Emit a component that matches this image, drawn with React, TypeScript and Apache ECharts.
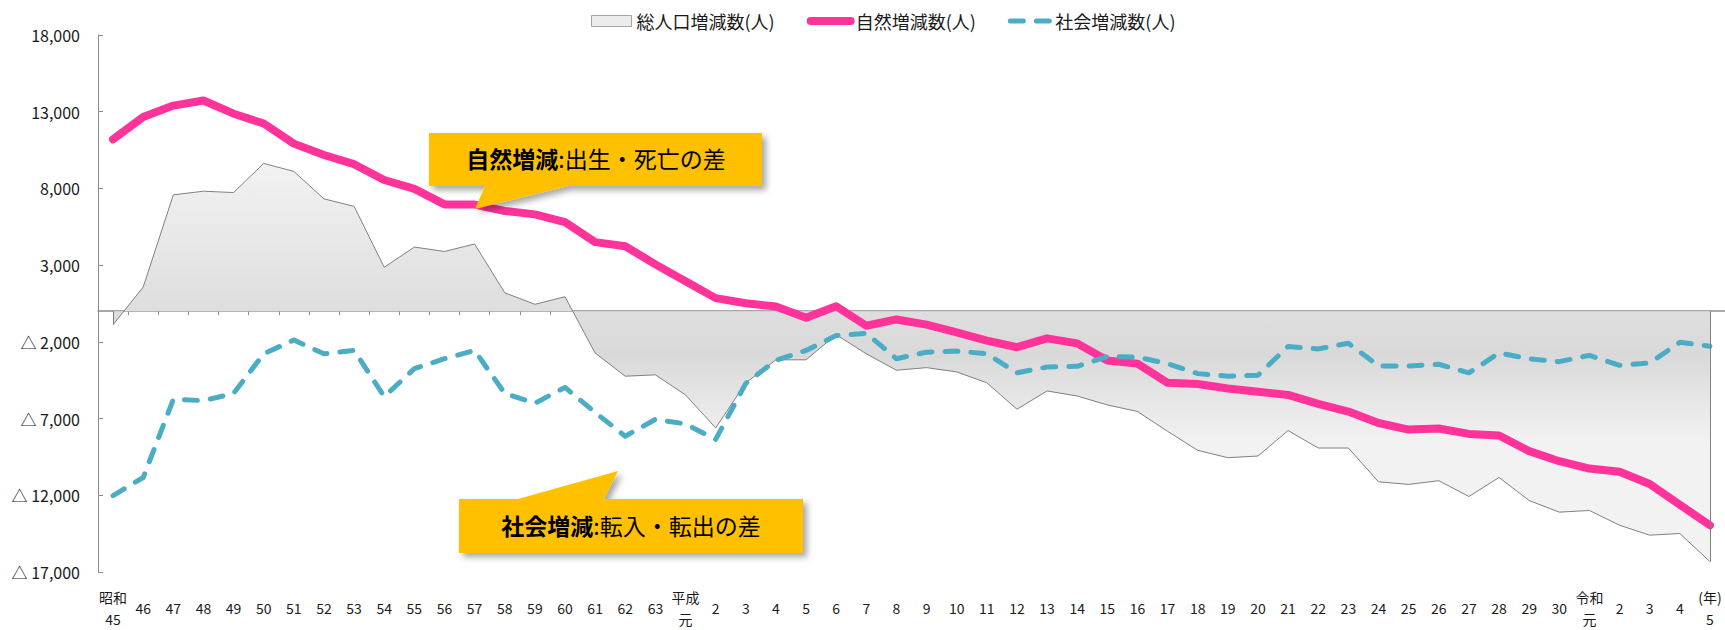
import React, { useEffect, useRef } from 'react';
import * as echarts from 'echarts';

// 年（昭和45年〜令和5年）
const categories: string[] = [
  '昭和\n45', '46', '47', '48', '49', '50', '51', '52', '53', '54', '55', '56', '57', '58', '59', '60', '61', '62', '63',
  '平成\n元', '2', '3', '4', '5', '6', '7', '8', '9', '10', '11', '12', '13', '14', '15', '16', '17', '18', '19', '20',
  '21', '22', '23', '24', '25', '26', '27', '28', '29', '30',
  '令和\n元', '2', '3', '4', '(年)\n5',
];

// 総人口増減数(人)
const totalChange: number[] = [
  -880, 1570, 7580, 7820, 7730, 9630, 9110, 7320, 6830, 2860, 4180, 3890, 4380, 1200, 450, 940, -2730, -4240, -4150,
  -5460, -7610, -4670, -3170, -3170, -1530, -2780, -3850, -3680, -3960, -4670, -6390, -5200, -5530, -6110, -6540, -7830,
  -9070, -9550, -9440, -7780, -8920, -8920, -11120, -11290, -11050, -12080, -10840, -12340, -13100,
  -12990, -13950, -14600, -14490, -16320,
];

// 自然増減数(人)
const naturalChange: number[] = [
  11200, 12650, 13400, 13730, 12870, 12230, 10920, 10180, 9580, 8550, 7970, 6960, 6950, 6530, 6310, 5800, 4500, 4230, 3050,
  1950, 850, 520, 300, -430, 320, -950, -540, -880, -1380, -1920, -2350, -1770, -2100, -3210, -3420, -4670,
  -4750, -5040, -5250, -5460, -6040, -6540, -7290, -7720, -7650, -8000, -8100, -9120, -9780,
  -10260, -10470, -11260, -12620, -13950,
];

// 社会増減数(人)
const socialChange: number[] = [
  -12020, -10840, -5750, -5830, -5360, -2780, -1880, -2780, -2560, -5570, -3750, -3100, -2560, -5360, -6000, -4970, -6600, -8150, -7050,
  -7350, -8360, -4710, -3200, -2560, -1590, -1440, -3100, -2670, -2600, -2780, -4020, -3640, -3590, -2950, -2990, -3420,
  -4070, -4240, -4170, -2300, -2460, -2090, -3570, -3570, -3460, -4020, -2730, -3100, -3290,
  -2880, -3530, -3380, -2030, -2280,
];

const seriesNames = ['総人口増減数(人)', '自然増減数(人)', '社会増減数(人)'];
const yMin = -17000;
const yMax = 18000;
const yInterval = 5000;

const FONT = "'Noto Sans CJK JP', 'Noto Sans', sans-serif";
const PINK = '#ff3399';
const BLUE = '#4bacc6';
const DASH = [13, 13];

function formatTick(v: number): string {
  const s = Math.abs(v).toLocaleString('en-US');
  return v < 0 ? '△ ' + s : s;
}

export default function App() {
  const ref = useRef<HTMLDivElement>(null);

  useEffect(() => {
    if (!ref.current) return;
    const chart = echarts.init(ref.current, undefined, { renderer: 'svg' });
    const last = totalChange.length - 1;

    const option: any = {
      animation: false,
      backgroundColor: '#ffffff',
      textStyle: { fontFamily: FONT },
      legend: {
        left: 586,
        top: 7,
        itemWidth: 40,
        itemHeight: 11,
        itemGap: 32,
        selectedMode: false,
        textStyle: { fontFamily: FONT, fontSize: 18, color: '#1a1a1a' },
        data: [
          {
            name: seriesNames[0],
            icon: 'rect',
            itemStyle: { color: '#ececec', borderColor: '#a6a6a6', borderWidth: 1 },
          },
          {
            name: seriesNames[1],
            itemStyle: { opacity: 0 },
            lineStyle: { color: PINK, width: 8, cap: 'round' },
          },
          {
            name: seriesNames[2],
            itemStyle: { opacity: 0 },
            lineStyle: { color: BLUE, width: 5, type: DASH, cap: 'round' },
          },
        ],
      },
      grid: { left: 98, right: -4, top: 35, bottom: 53, containLabel: false },
      xAxis: [
        {
          type: 'category',
          data: categories,
          position: 'bottom',
          boundaryGap: true,
          axisLine: { show: false, onZero: false },
          axisTick: { show: false },
          axisLabel: {
            interval: 0,
            margin: 36,
            verticalAlign: 'middle',
            lineHeight: 22,
            fontSize: 14,
            fontFamily: FONT,
            color: '#1a1a1a',
          },
          splitLine: { show: false },
        },
        {
          type: 'category',
          data: categories,
          position: 'bottom',
          boundaryGap: true,
          axisLine: { show: true, onZero: true, lineStyle: { color: '#8c8c8c', width: 1.5 } },
          axisTick: { show: true, length: 4, inside: false, interval: 0, lineStyle: { color: '#8c8c8c' } },
          axisLabel: { show: false },
          splitLine: { show: false },
        },
      ],
      yAxis: {
        type: 'value',
        min: yMin,
        max: yMax,
        interval: yInterval,
        axisLine: { show: true, lineStyle: { color: '#8c8c8c', width: 1 } },
        axisTick: { show: true, inside: true, length: 5, lineStyle: { color: '#8c8c8c' } },
        splitLine: { show: false },
        axisLabel: {
          margin: 18,
          fontSize: 16,
          fontFamily: FONT,
          color: '#1a1a1a',
          formatter: (v: number) => formatTick(v),
        },
      },
      series: [
        {
          name: seriesNames[0],
          type: 'line',
          data: totalChange,
          symbol: 'none',
          z: 1,
          itemStyle: { color: '#e0e0e0' },
          lineStyle: { color: '#808080', width: 1 },
          areaStyle: {
            color: new echarts.graphic.LinearGradient(0, 0, 0, 1, [
              { offset: 0, color: '#f2f2f2' },
              { offset: 0.37, color: '#dedede' },
              { offset: 0.48, color: '#d9d9d9' },
              { offset: 0.7, color: '#f2f2f2' },
              { offset: 1, color: '#f2f2f2' },
            ]),
            opacity: 1,
          },
          markLine: {
            silent: true,
            symbol: 'none',
            label: { show: false },
            lineStyle: { color: '#808080', width: 1, type: 'solid' },
            data: [
              [{ coord: [0, 0] }, { coord: [0, totalChange[0]] }],
              [{ coord: [last, 0] }, { coord: [last, totalChange[last]] }],
            ],
          },
        },
        {
          name: seriesNames[1],
          type: 'line',
          data: naturalChange,
          symbol: 'none',
          z: 3,
          itemStyle: { color: PINK },
          lineStyle: { color: PINK, width: 8, cap: 'round', join: 'round' },
        },
        {
          name: seriesNames[2],
          type: 'line',
          data: socialChange,
          symbol: 'none',
          z: 4,
          itemStyle: { color: BLUE },
          lineStyle: { color: BLUE, width: 5, type: DASH, cap: 'round', join: 'round' },
        },
      ],
      graphic: [
        {
          type: 'polygon',
          z: 100,
          shape: {
            points: [[429, 133], [762, 133], [762, 186], [568, 186], [475, 209], [485, 186], [429, 186]],
          },
          style: {
            fill: '#ffc000',
            shadowBlur: 6,
            shadowOffsetX: 4,
            shadowOffsetY: 4,
            shadowColor: 'rgba(0,0,0,0.35)',
          },
        },
        {
          type: 'text',
          z: 101,
          x: 596,
          y: 158,
          style: {
            text: '{b|自然増減}{n|:出生・死亡の差}',
            align: 'center',
            verticalAlign: 'middle',
            rich: {
              b: { fontFamily: FONT, fontSize: 23, fontWeight: 'bold', fill: '#000000', color: '#000000' },
              n: { fontFamily: FONT, fontSize: 23, fontWeight: 'normal', fill: '#000000', color: '#000000' },
            },
          },
        },
        {
          type: 'polygon',
          z: 100,
          shape: {
            points: [[459, 499], [518, 499], [618, 471], [604, 499], [803, 499], [803, 553], [459, 553]],
          },
          style: {
            fill: '#ffc000',
            shadowBlur: 6,
            shadowOffsetX: 4,
            shadowOffsetY: 4,
            shadowColor: 'rgba(0,0,0,0.35)',
          },
        },
        {
          type: 'text',
          z: 101,
          x: 631,
          y: 525,
          style: {
            text: '{b|社会増減}{n|:転入・転出の差}',
            align: 'center',
            verticalAlign: 'middle',
            rich: {
              b: { fontFamily: FONT, fontSize: 23, fontWeight: 'bold', fill: '#000000', color: '#000000' },
              n: { fontFamily: FONT, fontSize: 23, fontWeight: 'normal', fill: '#000000', color: '#000000' },
            },
          },
        },
      ],
    };

    chart.setOption(option);
    return () => {
      chart.dispose();
    };
  }, []);

  return (
    <div
      ref={ref}
      style={{ position: 'absolute', left: 0, top: 0, width: 1725, height: 630, background: '#fff' }}
    />
  );
}
